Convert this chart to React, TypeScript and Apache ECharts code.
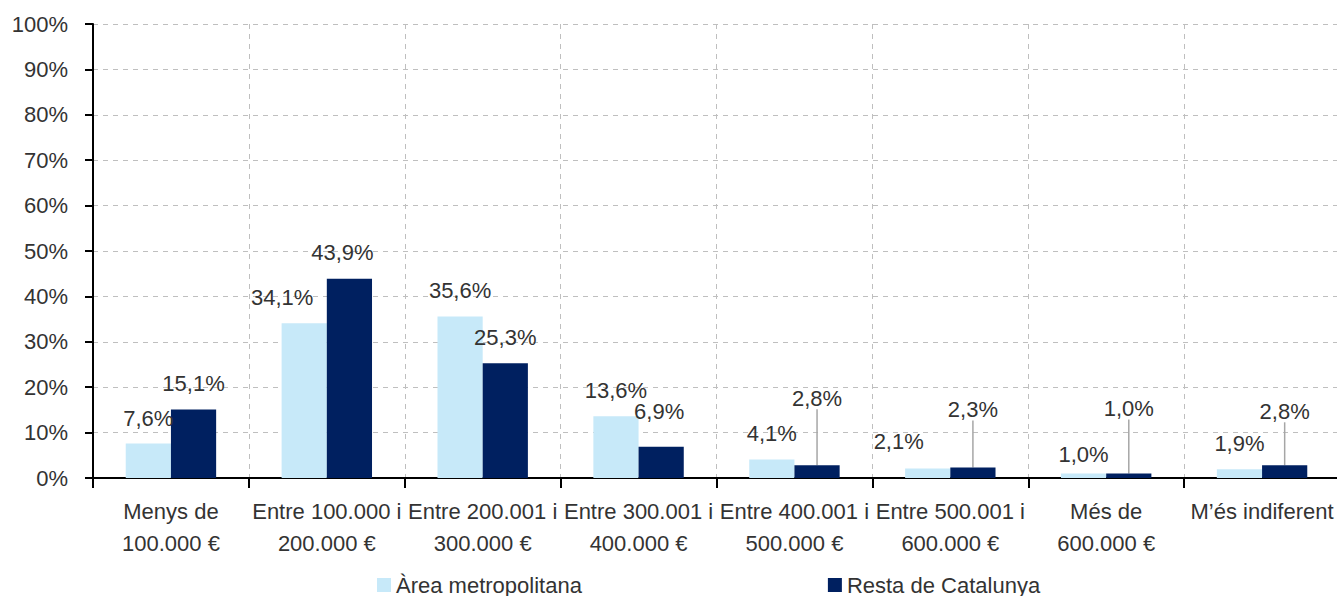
import React, { useEffect, useRef } from "react";
import * as echarts from "echarts";

const categories = [
  "Menys de\n100.000 €",
  "Entre 100.000 i\n200.000 €",
  "Entre 200.001 i\n300.000 €",
  "Entre 300.001 i\n400.000 €",
  "Entre 400.001 i\n500.000 €",
  "Entre 500.001 i\n600.000 €",
  "Més de\n600.000 €",
  "M’és indiferent",
];
const seriesNames = ["Àrea metropolitana", "Resta de Catalunya"];
const areaMetropolitana = [7.6, 34.1, 35.6, 13.6, 4.1, 2.1, 1.0, 1.9];
const restaCatalunya = [15.1, 43.9, 25.3, 6.9, 2.8, 2.3, 1.0, 2.8];
const yTicks = [0, 10, 20, 30, 40, 50, 60, 70, 80, 90, 100];

// label placement (styles only)
const lightDx = [0, -22, 0, 0, 0, -29, 0, 0];
const lightDy = [1, 0, 0, 0, 0, -1, 7, 0];
const darkDx = [0, -7, 0, -2, 0, 0, 0, 0];
const darkDy = [0, 0, 0, -9, -41, -32, -39, -28];
const darkLeader = [false, false, false, false, true, true, true, true];

const FONT = "'Liberation Sans', Arial, sans-serif";
const TEXT = "#333333";
const FS = 22;

const fmt = (v: number) => v.toFixed(1).replace(".", ",") + "%";

export default function App() {
  const ref = useRef<HTMLDivElement>(null);
  useEffect(() => {
    document.body.style.margin = "0";
    const chart = echarts.init(ref.current!, undefined, { renderer: "svg" });
    const labelBase = {
      show: true,
      position: "top",
      distance: 15,
      fontSize: FS,
      lineHeight: 22,
      color: TEXT,
      fontFamily: FONT,
      formatter: (p: any) => fmt(p.value),
    };
    chart.setOption({
      animation: false,
      textStyle: { fontFamily: FONT },
      grid: { left: 93, top: 24, bottom: 118, width: 1247, outerBoundsMode: "none", containLabel: false },
      legend: {
        left: 372,
        top: 569,
        itemGap: 246,
        itemWidth: 14,
        itemHeight: 14,
        icon: "rect",
        textStyle: { fontSize: FS, color: TEXT, fontFamily: FONT },
        data: seriesNames,
      },
      xAxis: {
        type: "category",
        data: categories,
        axisLine: { lineStyle: { color: "#000", width: 2 } },
        axisTick: { show: true, length: 10, lineStyle: { color: "#000", width: 2 } },
        axisLabel: { interval: 0, fontSize: FS, lineHeight: 32, color: TEXT, margin: 17, fontFamily: FONT },
        splitLine: { show: true, interval: 0, lineStyle: { type: [5, 5], color: "#BFBFBF", width: 1 } },
      },
      yAxis: {
        type: "value",
        min: yTicks[0],
        max: yTicks[yTicks.length - 1],
        interval: 10,
        axisLine: { show: true, lineStyle: { color: "#000", width: 2 } },
        axisTick: { show: true, length: 8, lineStyle: { color: "#000", width: 2 } },
        axisLabel: { fontSize: FS, color: TEXT, margin: 25, formatter: "{value}%", fontFamily: FONT },
        splitLine: { show: true, lineStyle: { type: [5, 5], color: "#BFBFBF", width: 1 } },
      },
      series: [
        {
          name: seriesNames[0],
          type: "bar",
          data: areaMetropolitana,
          barWidth: "29%",
          barGap: "0%",
          itemStyle: { color: "#C7E9F9" },
          label: labelBase,
          labelLayout: (p: any) => ({ dx: lightDx[p.dataIndex], dy: lightDy[p.dataIndex] }),
        },
        {
          name: seriesNames[1],
          type: "bar",
          data: restaCatalunya.map((v, i) => ({
            value: v,
            labelLine: { show: darkLeader[i] },
          })),
          barWidth: "29%",
          barGap: "0%",
          itemStyle: { color: "#002060" },
          label: labelBase,
          labelLine: { show: false, lineStyle: { color: "#A6A6A6", width: 1.5 } },
          labelLayout: (p: any) => ({ dx: darkDx[p.dataIndex], dy: darkDy[p.dataIndex] }),
        },
      ],
    });
    return () => chart.dispose();
  }, []);
  return <div ref={ref} style={{ width: 1337, height: 596 }} />;
}
